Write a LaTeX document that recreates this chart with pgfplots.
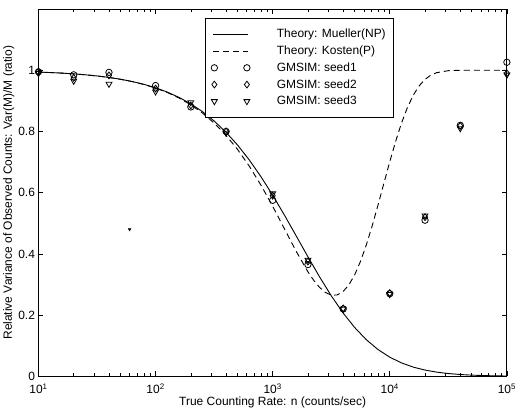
\documentclass[border=0pt]{standalone}
\usepackage{fontspec}
\setmainfont{Liberation Sans}
\usepackage{pgfplots}
\pgfplotsset{compat=1.18}
\pgfplotsset{
  lineleg/.style={legend image code/.code={\draw[##1] (0bp,0bp) -- (35bp,0bp); \path[draw=none,fill=none] (35bp,0bp) -- (62bp,0bp);}},
  markleg/.style={legend image code/.code={\draw[##1, only marks] plot coordinates {(1.5bp,0bp) (34bp,0bp)}; \path[draw=none,fill=none] (35bp,0bp) -- (62bp,0bp);}},
}
\begin{document}
\begin{tikzpicture}
\begin{axis}[
  name=ax,
  scale only axis, width=468bp, height=367bp,
  xmode=log, xmin=10, xmax=100000, ymin=0, ymax=1.2,
  xtick={10,100,1000,10000,100000},
  xticklabels={10\textsuperscript{1},10\textsuperscript{2},10\textsuperscript{3},10\textsuperscript{4},10\textsuperscript{5}},
  ytick={0,0.2,0.4,0.6,0.8,1}, yticklabels={0,0.2,0.4,0.6,0.8,1},
  font=\fontsize{12}{14}\selectfont,
  xticklabel style={inner sep=0pt, yshift=-7bp},
  yticklabel style={inner ysep=0pt},
  xlabel={True Counting Rate: n (counts/sec)},
  ylabel={Relative Variance of Observed Counts: Var(M)/M (ratio)},
  xlabel style={inner ysep=2bp, yshift=-1bp},
  ylabel style={yshift=-3bp},
  axis line style={line width=0.9bp},
  every tick/.style={black, line width=0.6bp},
  major tick length=5bp, minor tick length=3bp,
  clip=false,
  legend cell align=left,
  legend style={at={(rel axis cs:0.355,0.976)}, anchor=north west, draw=black, line width=0.8bp,
    inner xsep=6bp, inner ysep=9bp, row sep=2.6bp, font=\fontsize{12}{14}\selectfont},
]
\addplot[black, line width=0.9bp, lineleg] coordinates {
(10,0.99403)(12.589,0.99248)(15.849,0.99056)(19.953,0.98813)(25.119,0.98510)(31.623,0.98129)(39.811,0.97653)(50.119,0.97059)(63.096,0.96319)(79.433,0.95399)
(100,0.94260)(125.89,0.92854)(158.49,0.91128)(199.53,0.89024)(251.19,0.86476)(316.23,0.83421)(398.11,0.79800)(501.19,0.75567)(630.96,0.70701)(794.33,0.65215)
(1000,0.59172)(1258.9,0.52687)(1584.9,0.45935)(1995.3,0.39132)(2511.9,0.32520)(3162.3,0.26334)(3981.1,0.20768)(5011.9,0.15954)(6309.6,0.11949)(7943.3,0.08738)
(10000,0.0625)(12589,0.04383)(15849,0.03020)(19953,0.02049)(25119,0.01373)(31623,0.00909)(39811,0.00597)(50119,0.00389)(63096,0.00252)(79433,0.00162)(100000,0.00104)};
\addlegendentry{Theory: Mueller(NP)\hspace{17bp}}
\addplot[black, line width=0.9bp, dash pattern=on 6bp off 4bp, lineleg] coordinates {
(10,0.99402)(12.589,0.99247)(15.849,0.99053)(19.953,0.98810)(25.119,0.98504)(31.623,0.98121)(39.811,0.97640)(50.119,0.97038)(63.096,0.96285)(79.433,0.95346)
(100,0.94177)(125.89,0.92726)(158.49,0.90932)(199.53,0.88724)(251.19,0.86023)(316.23,0.82744)(398.11,0.78802)(501.19,0.74127)(630.96,0.68671)(794.33,0.62445)
(1000,0.55551)(1258.9,0.48224)(1584.9,0.40890)(1995.3,0.34205)(2238.7,0.31377)(2511.9,0.29061)(2818.4,0.27399)(3162.3,0.26525)(3548.1,0.26573)(3981.1,0.27645)(4466.8,0.29827)
(5011.9,0.33139)(5623.4,0.37556)(6309.6,0.42968)(7079.5,0.49206)(7943.3,0.56024)(8912.5,0.63107)(10000,0.70128)(11220,0.76754)(12589,0.82705)(14125,0.87762)(15849,0.91811)(17783,0.94854)
(19953,0.96992)(22387,0.98373)(25119,0.99197)(31623,0.99856)(39811,0.99984)(50119,1.0)(63096,1.0)(79433,1.0)(100000,1.0)};
\addlegendentry{Theory: Kosten(P)}
\addplot[black, only marks, mark=o, mark size=3.2bp, line width=0.8bp, markleg] coordinates {
(10,0.995)(20,0.985)(40,0.993)(100,0.95)(200,0.88)(400,0.80)(1000,0.575)(2000,0.365)(4000,0.22)(10000,0.27)(20000,0.51)(40000,0.82)(100000,1.026)};
\addlegendentry{GMSIM: seed1}
\addplot[black, only marks, mark=diamond, mark size=3.4bp, line width=0.8bp, markleg] coordinates {
(10,0.995)(20,0.975)(40,0.983)(100,0.94)(200,0.885)(400,0.80)(1000,0.59)(2000,0.375)(4000,0.222)(10000,0.272)(20000,0.52)(40000,0.818)(100000,0.99)};
\addlegendentry{GMSIM: seed2}
\addplot[black, only marks, mark=triangle, mark size=3.4bp, line width=0.8bp, mark options={rotate=180}, markleg] coordinates {
(10,0.99)(20,0.965)(40,0.955)(100,0.93)(200,0.895)(400,0.795)(1000,0.597)(2000,0.38)(4000,0.22)(10000,0.268)(20000,0.525)(40000,0.81)(100000,0.985)};
\addlegendentry{GMSIM: seed3}
\addplot[black, only marks, mark=triangle*, mark size=1.6bp, mark options={rotate=180}, forget plot] coordinates {(60,0.48)};
\end{axis}
\path (ax.north) ++(0,9bp);
\end{tikzpicture}
\end{document}
